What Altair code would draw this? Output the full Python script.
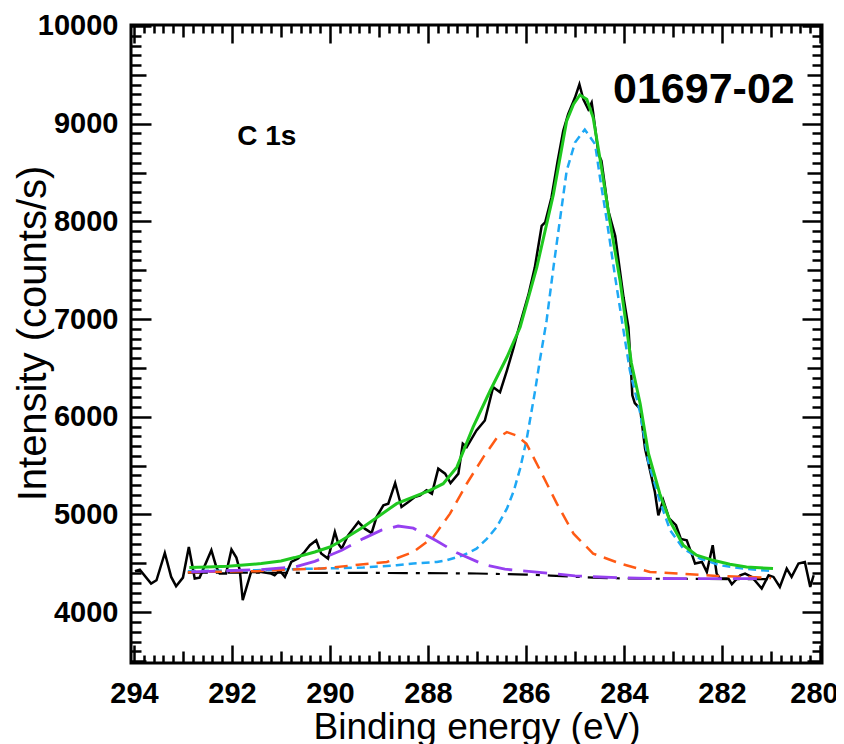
import altair as alt
import pandas as pd

# ---------------- data ----------------
# measured spectrum (black)
E_raw = [293.98, 293.88, 293.65, 293.54, 293.37, 293.24, 293.14, 293.00, 292.88, 292.76,
         292.66, 292.42, 292.32, 292.25, 292.12, 292.01, 291.91, 291.84, 291.78, 291.61,
         291.40, 291.20, 291.13, 291.03, 290.92, 290.79, 290.65, 290.52, 290.41, 290.28,
         290.18, 290.04, 289.90, 289.83, 289.76, 289.63, 289.42, 289.29, 289.15, 289.05,
         288.91, 288.81, 288.67, 288.54, 288.40, 288.27, 288.16, 288.03, 287.92, 287.79,
         287.65, 287.54, 287.38, 287.29, 287.21, 287.01, 286.84, 286.67, 286.53, 286.39,
         286.26, 286.16, 285.95, 285.82, 285.68, 285.61, 285.48, 285.36, 285.24, 285.14,
         285.00, 284.91, 284.83, 284.73, 284.66, 284.63, 284.52, 284.46, 284.32, 284.18,
         284.12, 284.01, 283.91, 283.86, 283.83, 283.78, 283.67, 283.57, 283.50, 283.37,
         283.30, 283.20, 283.08, 282.94, 282.84, 282.72, 282.62, 282.55, 282.41, 282.31,
         282.19, 282.11, 282.04, 281.87, 281.80, 281.63, 281.53, 281.39, 281.19, 281.05,
         280.95, 280.82, 280.68, 280.58, 280.44, 280.31, 280.20, 280.13]
I_raw = [4420, 4436, 4293, 4327, 4606, 4361, 4266, 4354, 4667, 4344,
         4354, 4634, 4463, 4395, 4395, 4641, 4559, 4429, 4123, 4412,
         4412, 4395, 4378, 4429, 4361, 4514, 4549, 4616, 4685, 4736,
         4600, 4549, 4821, 4702, 4651, 4787, 4923, 4855, 4811, 4974,
         5094, 5111, 5322, 5077, 5127, 5178, 5196, 5247, 5213, 5469,
         5418, 5322, 5418, 5724, 5690, 5860, 5962, 6303, 6252, 6473,
         6695, 6882, 7250, 7529, 7955, 7989, 8245, 8600, 8926, 9097,
         9267, 9403, 9250, 9148, 9216, 9113, 8688, 8620, 8108, 7853,
         7631, 7223, 6916, 6500, 6220, 6140, 6082, 5673, 5520, 5230,
         4991, 5145, 4960, 4890, 4750, 4736, 4600, 4498, 4514, 4412,
         4685, 4395, 4344, 4344, 4286, 4378, 4395, 4361, 4242, 4378,
         4361, 4259, 4446, 4361, 4498, 4514, 4259, 4378]

# fitted envelope (green)
E_fit = [292.87, 292.50, 292.08, 291.40, 291.00, 290.72, 290.31, 290.00, 289.84, 289.32,
         288.64, 287.96, 287.69, 287.41, 287.08, 286.73, 286.39, 286.12, 285.78, 285.44,
         285.17, 285.03, 284.90, 284.76, 284.63, 284.46, 284.29, 284.08, 283.85, 283.67,
         283.50, 283.27, 283.06, 282.79, 282.52, 282.18, 281.84, 281.50, 280.96]
I_fit = [4457, 4462, 4470, 4498, 4525, 4559, 4616, 4667, 4710, 4872,
         5111, 5247, 5315, 5485, 5894, 6269, 6609, 6916, 7529, 8279,
         9029, 9199, 9294, 9250, 9062, 8551, 8006, 7393, 6550, 6133,
         5622, 5213, 4930, 4685, 4583, 4531, 4491, 4463, 4446]

# main component (blue, short dashes)
E_c1 = [292.90, 291.50, 290.34, 289.86, 289.32, 288.64, 288.30, 287.82, 287.62, 287.28,
        287.01, 286.80, 286.60, 286.39, 286.25, 286.12, 285.99, 285.82, 285.71, 285.58,
        285.44, 285.31, 285.17, 285.00, 284.80, 284.59, 284.49, 284.35, 284.18, 284.01,
        283.88, 283.67, 283.50, 283.27, 283.06, 282.79, 282.45, 282.04, 281.57, 280.96]
I_c1 = [4420, 4430, 4446, 4450, 4457, 4480, 4498, 4514, 4531, 4583,
        4650, 4750, 4870, 5060, 5240, 5470, 5760, 6250, 6600, 6984,
        7529, 8006, 8518, 8807, 8940, 8790, 8449, 8006, 7427, 6882,
        6473, 6040, 5530, 5140, 4840, 4651, 4549, 4480, 4446, 4420]

# second component (orange, medium dashes)
E_c2 = [292.90, 291.50, 290.88, 290.20, 289.52, 288.84, 288.30, 287.89, 287.55, 287.21,
        286.87, 286.60, 286.39, 286.20, 285.99, 285.71, 285.37, 285.03, 284.63, 284.08,
        283.47, 282.89, 282.11, 281.50, 281.00]
I_c2 = [4410, 4420, 4436, 4446, 4480, 4514, 4616, 4770, 5009, 5315,
        5587, 5780, 5843, 5810, 5724, 5451, 5111, 4804, 4600, 4498,
        4412, 4395, 4371, 4361, 4350]

# third component (purple, long dashes)
E_c3 = [292.83, 291.40, 290.72, 290.31, 289.76, 289.32, 288.95, 288.61, 288.30, 287.82,
        287.41, 286.87, 286.43, 285.78, 285.00, 284.50, 283.50, 282.50, 281.10]
I_c3 = [4412, 4436, 4463, 4520, 4634, 4753, 4840, 4882, 4860, 4728,
        4608, 4490, 4440, 4410, 4372, 4360, 4345, 4344, 4344]

# background (black dash-dot)
E_bg = [292.90, 290.00, 288.00, 287.00, 286.00, 285.50, 285.00, 284.50, 284.00, 283.00, 281.00]
I_bg = [4405, 4403, 4400, 4396, 4385, 4375, 4362, 4352, 4345, 4341, 4338]

# annotations
ann_text = ["01697-02", "C 1s"]
ann_E = [282.37, 291.29]
ann_I = [9345, 8862]
ann_size = [43, 28]

# axis ticks
x_major = [294, 292, 290, 288, 286, 284, 282, 280]
x_medium = [293, 291, 289, 287, 285, 283, 281]
x_minor = [round(280 + 0.2 * k, 1) for k in range(71) if k % 5 != 0]
y_major = [4000, 5000, 6000, 7000, 8000, 9000, 10000]
y_medium = [3500, 4500, 5500, 6500, 7500, 8500, 9500]
y_minor = [3500 + 100 * k for k in range(66) if k % 5 != 0]

# ---------------- chart ----------------
FONT = "Liberation Sans, Arial, Helvetica, sans-serif"
xs = alt.Scale(domain=[279.96, 294.06], reverse=True, nice=False, zero=False)
ys = alt.Scale(domain=[3480, 10010], nice=False, zero=False)

df_raw = pd.DataFrame({"E": E_raw, "I": I_raw})
df_fit = pd.DataFrame({"E": E_fit, "I": I_fit})
df_c1 = pd.DataFrame({"E": E_c1, "I": I_c1})
df_c2 = pd.DataFrame({"E": E_c2, "I": I_c2})
df_c3 = pd.DataFrame({"E": E_c3, "I": I_c3})
df_bg = pd.DataFrame({"E": E_bg, "I": I_bg})
df_ann = pd.DataFrame({"t": ann_text, "E": ann_E, "I": ann_I, "s": ann_size})


def tick_axis(orient, values, size):
    return alt.Axis(orient=orient, values=values, labels=False, domain=False, grid=False,
                    ticks=True, tickSize=alt.ExprRef(expr=str(-size)), tickColor="black",
                    tickWidth=2.5, title=None)


def curve(df, color, width, dash=None):
    kw = dict(color=color, strokeWidth=width)
    if dash:
        kw["strokeDash"] = dash
    return alt.Chart(df).mark_line(**kw).encode(
        x=alt.X("E:Q", scale=xs, axis=None),
        y=alt.Y("I:Q", scale=ys, axis=None),
    )


bottom_axis = alt.Axis(orient="bottom", values=x_major, format="d", ticks=False, domain=False,
                       grid=False, labelPadding=16, labelFont=FONT, labelFontSize=29,
                       labelFontWeight="bold", labelColor="black",
                       labelOffset={"condition": {"test": "datum.value <= 280.5", "value": -6},
                                    "value": 0},
                       title="Binding energy (eV)", titleFont=FONT, titleFontSize=37,
                       titleFontWeight="normal", titleColor="black",
                       titleBaseline="alphabetic", titleY=75)
left_axis = alt.Axis(orient="left", values=y_major, format="d", ticks=False, domain=False,
                     grid=False, labelPadding=13, labelFont=FONT, labelFontSize=29,
                     labelFontWeight="bold", labelColor="black",
                     title="Intensity (counts/s)", titleFont=FONT, titleFontSize=40,
                     titleFontWeight="normal", titleColor="black", titleAngle=270,
                     titleBaseline="alphabetic", titleX=-86, titleY=308, titleAlign="center")

raw = alt.Chart(df_raw).mark_line(color="black", strokeWidth=2.5).encode(
    x=alt.X("E:Q", scale=xs, axis=bottom_axis),
    y=alt.Y("I:Q", scale=ys, axis=left_axis),
)

tick_layers = []
for (xo, yo) in [("bottom", "left"), ("top", "right")]:
    for xv, yv, xsz, ysz in [(x_major, y_major, 18, 20), (x_medium, y_medium, 12, 15),
                             (x_minor, y_minor, 8, 10)]:
        tick_layers.append(
            alt.Chart(df_bg).mark_line(opacity=0).encode(
                x=alt.X("E:Q", scale=xs, axis=tick_axis(xo, xv, xsz)),
                y=alt.Y("I:Q", scale=ys, axis=tick_axis(yo, yv, ysz)),
            )
        )

bg = curve(df_bg, "black", 2.2, [20, 8, 4, 8])
c1 = curve(df_c1, "#1ea8f5", 2.5, [8, 5])
c2 = curve(df_c2, "#ff5a14", 2.5, [13, 8])
c3 = curve(df_c3, "#9640f0", 2.8, [24, 11])
fit = curve(df_fit, "#1fc81f", 3)

ann = alt.Chart(df_ann).mark_text(font=FONT, fontWeight="bold", color="black",
                                  align="center", baseline="middle").encode(
    x=alt.X("E:Q", scale=xs, axis=None),
    y=alt.Y("I:Q", scale=ys, axis=None),
    text="t:N",
    size=alt.Size("s:Q", scale=None, legend=None),
)

chart = alt.layer(raw, *tick_layers, bg, c1, c2, c3, fit, ann).resolve_axis(
    x="independent", y="independent"
).properties(
    width=691, height=638,
    autosize=alt.AutoSizeParams(type="none"),
    padding={"left": 123, "top": 17, "right": 14, "bottom": 81},
).configure_view(stroke="black", strokeWidth=3)

chart.save("out.html", embed_options={"renderer": "svg", "actions": False})
